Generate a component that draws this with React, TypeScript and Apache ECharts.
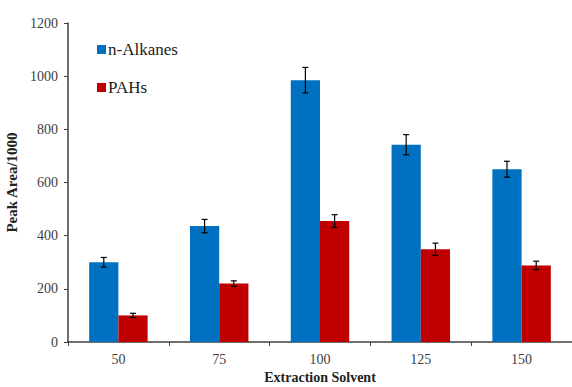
import React, { useEffect, useRef } from "react";
import * as echarts from "echarts";

const categories = ["50", "75", "100", "125", "150"];
const alkanes = [300, 436, 985, 742, 650];
const alkanesErr = [18, 25, 48, 38, 30];
const pahs = [100, 220, 455, 349, 288];
const pahsErr = [8, 10, 24, 23, 16];
const yTicks = { min: 0, max: 1200, interval: 200 };
const seriesNames = ["n-Alkanes", "PAHs"];

const FONT = "Liberation Serif";
const BLUE = "#0070C0";
const RED = "#C00000";
const AXIS = "#404040";
const seriesColors = [BLUE, RED];

export default function App() {
  const ref = useRef<HTMLDivElement>(null);
  useEffect(() => {
    if (!ref.current) return;
    const chart = echarts.init(ref.current, null, { renderer: "svg" });
    const errData = (vals: number[], errs: number[]) =>
      vals.map((v, i) => [i, v, errs[i]]);
    const makeErr = (sign: number) => (params: any, api: any) => {
      const idx = api.value(0);
      const v = api.value(1);
      const e = api.value(2);
      const band = api.size([1, 0])[0];
      const off = sign * band * 0.145;
      const top = api.coord([idx, v + e]);
      const bot = api.coord([idx, v - e]);
      const x = top[0] + off;
      const cap = 3;
      const style = { stroke: "#000", lineWidth: 1.2 };
      return {
        type: "group",
        children: [
          { type: "line", shape: { x1: x, y1: top[1], x2: x, y2: bot[1] }, style },
          { type: "line", shape: { x1: x - cap, y1: top[1], x2: x + cap, y2: top[1] }, style },
          { type: "line", shape: { x1: x - cap, y1: bot[1], x2: x + cap, y2: bot[1] }, style },
        ],
      };
    };
    const legendGraphic = seriesNames.flatMap((n, i) => [
      {
        type: "rect",
        left: 97,
        top: 45 + i * 38,
        shape: { width: 9, height: 9 },
        style: { fill: seriesColors[i] },
      },
      {
        type: "text",
        left: 108,
        top: 41 + i * 38,
        style: {
          text: n,
          font: `17px "${FONT}"`,
          fontFamily: FONT,
          fontSize: 17,
          fill: "#222",
        },
      },
    ]);
    chart.setOption({
      animation: false,
      backgroundColor: "#fff",
      textStyle: { fontFamily: FONT },
      grid: {
        left: 68,
        right: 0,
        top: 23,
        bottom: 45,
        containLabel: false,
        outerBoundsMode: "none",
      },
      graphic: legendGraphic,
      xAxis: {
        type: "category",
        data: categories,
        name: "Extraction Solvent",
        nameLocation: "middle",
        nameGap: 27,
        nameTextStyle: { fontFamily: FONT, fontSize: 14, fontWeight: "bold", color: "#222" },
        axisLine: { lineStyle: { color: AXIS, width: 1.5 } },
        axisTick: { show: true, alignWithLabel: false, length: 4, lineStyle: { color: AXIS } },
        axisLabel: { fontFamily: FONT, fontSize: 14, color: "#404040", margin: 10 },
      },
      yAxis: {
        type: "value",
        min: yTicks.min,
        max: yTicks.max,
        interval: yTicks.interval,
        name: "Peak Area/1000",
        nameLocation: "middle",
        nameGap: 46,
        nameTextStyle: { fontFamily: FONT, fontSize: 15, fontWeight: "bold", color: "#222" },
        axisLine: { show: true, lineStyle: { color: AXIS, width: 1.5 } },
        axisTick: { show: true, length: 4, lineStyle: { color: AXIS } },
        splitLine: { show: false },
        axisLabel: {
          fontFamily: FONT,
          fontSize: 14,
          color: "#404040",
          margin: 10,
          formatter: (v: number) => String(v),
        },
      },
      series: [
        {
          name: seriesNames[0],
          type: "bar",
          data: alkanes,
          barWidth: "29%",
          barGap: "0%",
          itemStyle: { color: BLUE },
        },
        {
          name: seriesNames[1],
          type: "bar",
          data: pahs,
          barWidth: "29%",
          barGap: "0%",
          itemStyle: { color: RED },
        },
        {
          type: "custom",
          name: "errA",
          data: errData(alkanes, alkanesErr),
          renderItem: makeErr(-1),
          encode: { x: 0, y: 1 },
          z: 10,
          silent: true,
        },
        {
          type: "custom",
          name: "errP",
          data: errData(pahs, pahsErr),
          renderItem: makeErr(1),
          encode: { x: 0, y: 1 },
          z: 10,
          silent: true,
        },
      ],
    });
    return () => chart.dispose();
  }, []);
  return (
    <div
      ref={ref}
      style={{ position: "fixed", left: 0, top: 0, width: 572, height: 387 }}
    />
  );
}
